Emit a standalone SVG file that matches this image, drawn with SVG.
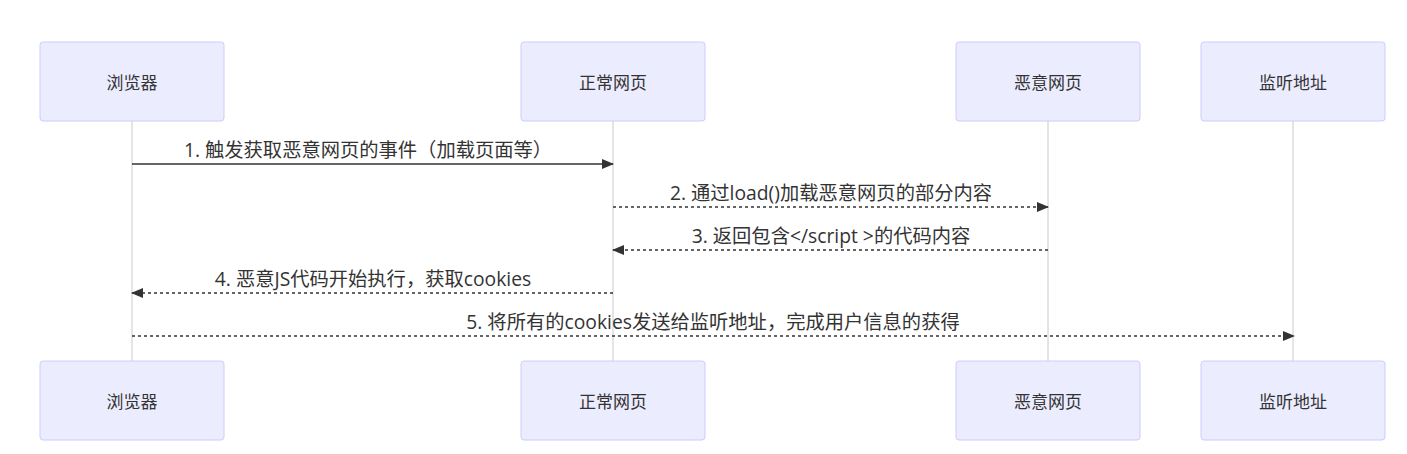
<svg xmlns="http://www.w3.org/2000/svg" width="1407" height="454" viewBox="0 0 1407 454">
<style>
.actor{fill:#ECECFF;stroke:#CCCCFF;stroke-width:1}
.atext{font-family:"Open Sans","Noto Sans CJK SC",sans-serif;font-size:17px;fill:#333;text-anchor:middle;dominant-baseline:central}
.life{stroke:#aaa;stroke-width:0.6}
.msg{stroke:#333;stroke-width:1.5;fill:none}
.dot{stroke-dasharray:3,3}
.mtext{font-family:"Open Sans","Noto Sans CJK SC",sans-serif;font-size:19.3px;fill:#333;text-anchor:middle}
</style>
<defs>
<marker id="arrow" viewBox="0 0 12 10" refX="11" refY="5" markerWidth="12" markerHeight="10" markerUnits="userSpaceOnUse" orient="auto">
<path d="M0,0 L12,5 L0,10 z" fill="#333"/>
</marker>
</defs>
<rect width="1407" height="454" fill="#fff"/>
<g id="lifelines">
<line class="life" x1="132" y1="121" x2="132" y2="361"/>
<line class="life" x1="613" y1="121" x2="613" y2="361"/>
<line class="life" x1="1048" y1="121" x2="1048" y2="361"/>
<line class="life" x1="1293" y1="121" x2="1293" y2="361"/>
</g>
<g id="actor-browser-top"><rect class="actor" x="40" y="42" width="184" height="79" rx="3"/><text class="atext" x="132" y="82">浏览器</text></g>
<g id="actor-normal-top"><rect class="actor" x="521" y="42" width="184" height="79" rx="3"/><text class="atext" x="613" y="82">正常网页</text></g>
<g id="actor-malicious-top"><rect class="actor" x="956" y="42" width="184" height="79" rx="3"/><text class="atext" x="1048" y="82">恶意网页</text></g>
<g id="actor-listener-top"><rect class="actor" x="1201" y="42" width="184" height="79" rx="3"/><text class="atext" x="1293" y="82">监听地址</text></g>
<g id="actor-browser-bottom"><rect class="actor" x="40" y="361" width="184" height="79" rx="3"/><text class="atext" x="132" y="401">浏览器</text></g>
<g id="actor-normal-bottom"><rect class="actor" x="521" y="361" width="184" height="79" rx="3"/><text class="atext" x="613" y="401">正常网页</text></g>
<g id="actor-malicious-bottom"><rect class="actor" x="956" y="361" width="184" height="79" rx="3"/><text class="atext" x="1048" y="401">恶意网页</text></g>
<g id="actor-listener-bottom"><rect class="actor" x="1201" y="361" width="184" height="79" rx="3"/><text class="atext" x="1293" y="401">监听地址</text></g>
<g id="connectors">
<line class="msg" x1="132" y1="164" x2="613" y2="164" marker-end="url(#arrow)"/>
<text class="mtext" x="368" y="157">1. 触发获取恶意网页的事件（加载页面等）</text>
<line class="msg dot" x1="613" y1="207" x2="1048" y2="207" marker-end="url(#arrow)"/>
<text class="mtext" x="831" y="200">2. 通过load()加载恶意网页的部分内容</text>
<line class="msg dot" x1="1048" y1="250" x2="613" y2="250" marker-end="url(#arrow)"/>
<text class="mtext" x="831" y="243">3. 返回包含&lt;/script &gt;的代码内容</text>
<line class="msg dot" x1="613" y1="293" x2="132" y2="293" marker-end="url(#arrow)"/>
<text class="mtext" x="373" y="286">4. 恶意JS代码开始执行，获取cookies</text>
<line class="msg dot" x1="132" y1="336" x2="1294" y2="336" marker-end="url(#arrow)"/>
<text class="mtext" x="713" y="329">5. 将所有的cookies发送给监听地址，完成用户信息的获得</text>
</g>
</svg>
